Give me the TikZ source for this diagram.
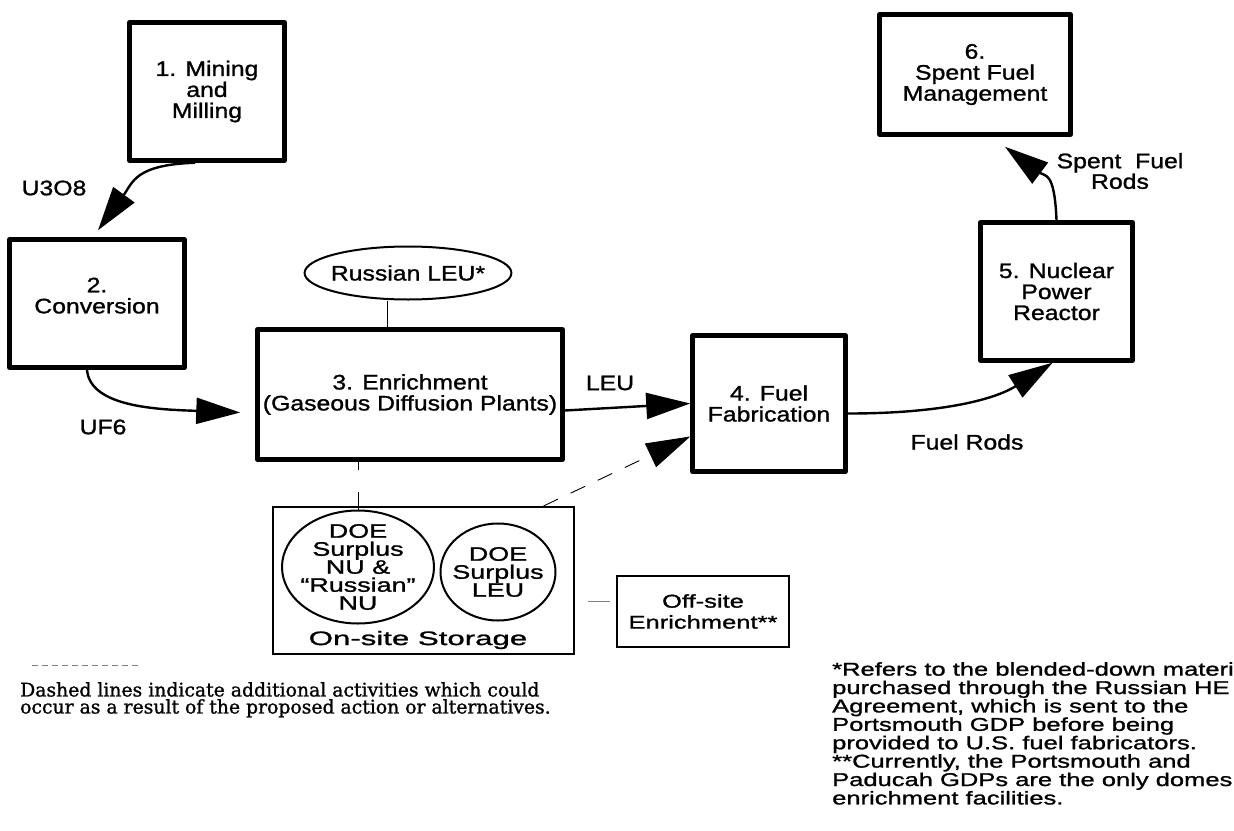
\documentclass[tikz,border=0pt]{standalone}
\usepackage{fontspec}
\setmainfont{Liberation Sans}[FakeStretch=1.18,FakeBold=1.2]
\newfontfamily\widefont{Liberation Sans}[FakeStretch=1.38,FakeBold=1.2]
\newfontfamily\widerfont{Liberation Sans}[FakeStretch=1.6,FakeBold=1.2]
\newfontfamily\notefont{DejaVu Serif}[FakeBold=1.2]
\usetikzlibrary{arrows.meta,shapes.geometric}

\begin{document}
\begin{tikzpicture}[x=1pt,y=-1pt,
  stagebox/.style={draw,line width=4.5pt,line join=round,inner sep=0pt,align=center,font=\fontsize{21}{21}\selectfont},
  pool/.style={draw,ellipse,line width=2pt,inner sep=-10pt,align=center},
  flow/.style={line width=2.4pt,-{Triangle[length=44pt,width=26pt]}},
  optional/.style={line width=0.9pt,dash pattern=on 16pt off 14pt},
  tag/.style={font=\fontsize{21}{21}\selectfont},
  small/.style={font=\widefont\fontsize{19.5}{18}\selectfont}]
\path[use as bounding box,fill=white] (0,0) rectangle (1234,830);

% fuel cycle stages
\node[stagebox,minimum width=155pt,minimum height=138pt] (mining) at (207,91.5) {1. Mining\\and\\Milling};
\node[stagebox,minimum width=175pt,minimum height=128pt] (conversion) at (97,303.5) {2.\\Conversion\\[-5pt]};
\node[stagebox,minimum width=305pt,minimum height=130pt] (enrich) at (410,394.5) {3. Enrichment\\(Gaseous Diffusion Plants)};
\node[stagebox,minimum width=153pt,minimum height=136pt] (fab) at (769,403.5) {4. Fuel\\Fabrication};
\node[stagebox,minimum width=152pt,minimum height=138pt] (reactor) at (1056.5,291.5) {5. Nuclear\\Power\\Reactor};
\node[stagebox,minimum width=191pt,minimum height=120pt] (spent) at (975,74.5) {6.\\Spent Fuel\\Management};

% feeds and storage
\node[pool,inner sep=-4pt,minimum width=205pt,minimum height=53pt,tag] (rusleu) at (408,273) {Russian LEU*};
\node[draw,line width=2pt,minimum width=301pt,minimum height=147pt] (storage) at (423.5,580.5) {};
\node[pool,minimum width=152pt,minimum height=113pt,small] (nustock) at (358,567) {DOE\\Surplus\\NU \&\\“Russian”\\NU};
\node[pool,minimum width=115pt,minimum height=97pt,small] (leustock) at (498,572) {DOE\\Surplus\\LEU};
\node[font=\widerfont\fontsize{19.5}{19.5}\selectfont] (storagename) at (418,640) {On-site Storage};
\node[draw,line width=2.4pt,minimum width=172pt,minimum height=71pt,align=center,font=\widefont\fontsize{18.5}{21}\selectfont] (offsite) at (703,611.5) {Off-site\\Enrichment**};

% labels
\node[tag] (u3o8) at (54,188) {U3O8};
\node[tag] (uf6) at (103,427) {UF6};
\node[tag] (leu) at (610,383) {LEU};
\node[tag] (rods) at (967,442) {Fuel Rods};
\node[align=center,font=\fontsize{21}{17}\selectfont] (spentrods) at (1120,171) {Spent~~Fuel\\Rods};

% material flow
\draw[flow] ([xshift=-12pt]mining.south) .. controls +(-60,2) and +(35,-48) .. ([xshift=1pt,yshift=7pt]conversion.north);
\draw[flow] ([xshift=-10pt]conversion.south) .. controls +(3,38) and +(-80,-3) .. ([xshift=-15pt,yshift=-18pt]enrich.west);
\draw[flow] ([yshift=-16pt]enrich.east) -- (fab.west);
\draw[flow] ([yshift=-10pt]fab.east) .. controls +(100,0) and +(-55,35) .. ([xshift=-4pt]reactor.south);
\draw[flow] (reactor.north) .. controls +(-2,-50) and +(40,30) .. ([xshift=30pt,yshift=-10pt]spent.south);

% possible extra activities
\draw[optional,-{Triangle[length=44pt,width=26pt]}] ([xshift=120pt]storage.north) -- ([yshift=-33pt]fab.west);
\coordinate (rusfoot) at ([xshift=-21pt]rusleu.south);
\draw[line width=0.8pt] (rusfoot) -- (rusfoot |- enrich.north);
\draw[line width=0.8pt,dash pattern=on 18pt off 22pt] (nustock.north) -- (nustock.north |- enrich.south);
\coordinate (offfoot) at ([yshift=-20.5pt]storage.east);
\draw[line width=0.8pt,gray,dash pattern=on 0pt off 13pt on 22pt off 10pt] (offfoot) -- (offfoot -| offsite.west);

% notes
\draw[gray,line width=0.6pt,dash pattern=on 6pt off 4pt] (32,665) -- (138,665);
\node[anchor=north west,inner sep=0pt,align=left,font=\notefont\fontsize{18.8}{17}\selectfont] (legend) at (20,682) {Dashed lines indicate additional activities which could\\occur as a result of the proposed action or alternatives.};
\node[anchor=north west,inner sep=0pt,align=left,font=\widefont\fontsize{18.5}{18.4}\selectfont] (footnote) at (832,662) {*Refers to the blended-down materi\\purchased through the Russian HE\\Agreement, which is sent to the\\Portsmouth GDP before being\\provided to U.S. fuel fabricators.\\**Currently, the Portsmouth and\\Paducah GDPs are the only domes\\enrichment facilities.};
\end{tikzpicture}
\end{document}
